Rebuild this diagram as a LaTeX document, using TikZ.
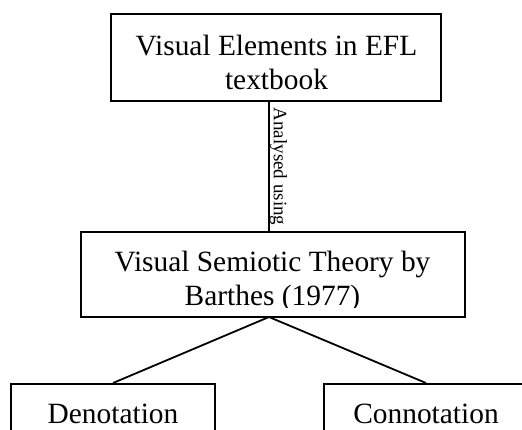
\documentclass[tikz,border=0pt]{standalone}
\usepackage{fontspec}
\setmainfont{Liberation Serif}
\usetikzlibrary{calc}

\begin{document}
\begin{tikzpicture}[x=1pt, y=-1pt,
		box/.style={draw, line width=2pt, inner sep=0pt},
		boxtext/.style={inner sep=0pt, align=center, font=\fontsize{29.4}{34}\selectfont},
		link/.style={line width=1.8pt}]
		\pgfmathsetmacro{\leafwidth}{204}
		\pgfmathsetmacro{\leafheight}{90}
		\pgfmathsetmacro{\cutline}{11}
		
		\useasboundingbox (0,0) rectangle (522,429);
		\clip (0,0) rectangle (522,429);
		
		% boxes
		\node[box, minimum width=330pt, minimum height=87pt] (elements) at (276,57.5) {};
		\node[box, minimum width=384pt, minimum height=85pt] (theory) at (273,274.5) {};
		\node[box, minimum width=\leafwidth pt, minimum height=\leafheight pt, anchor=north] (denotation) at (113,383) {};
		\node[box, minimum width=\leafwidth pt, minimum height=\leafheight pt, anchor=north] (connotation) at (426,383) {};
		
		% texts
		\node[boxtext] (elementstext) at (276.5,62.75) {Visual Elements in EFL\\textbook};
		\begin{scope}
			\clip (theory.north west) rectangle ($(theory.south east)+(0,-\cutline)$);
			\node[boxtext] (theorytext) at (272.5,281.6) {Visual Semiotic Theory by\\Barthes (1977)};
		\end{scope}
		\node[boxtext, anchor=base] (denotationtext) at (113,423) {Denotation};
		\node[boxtext, anchor=base] (connotationtext) at (426,423) {Connotation};
		
		% connectors
		\coordinate (fork) at (269,317);
		\draw[link, line width=1.3pt] (elements.south -| fork) --
			node[midway, rotate=-90, anchor=south, inner sep=0pt, font=\fontsize{19}{22}\selectfont] (analysed) {Analysed using}
			(theory.north -| fork);
		\draw[link] (denotation.north) -- (fork) -- (connotation.north);
	\end{tikzpicture}
\end{document}
